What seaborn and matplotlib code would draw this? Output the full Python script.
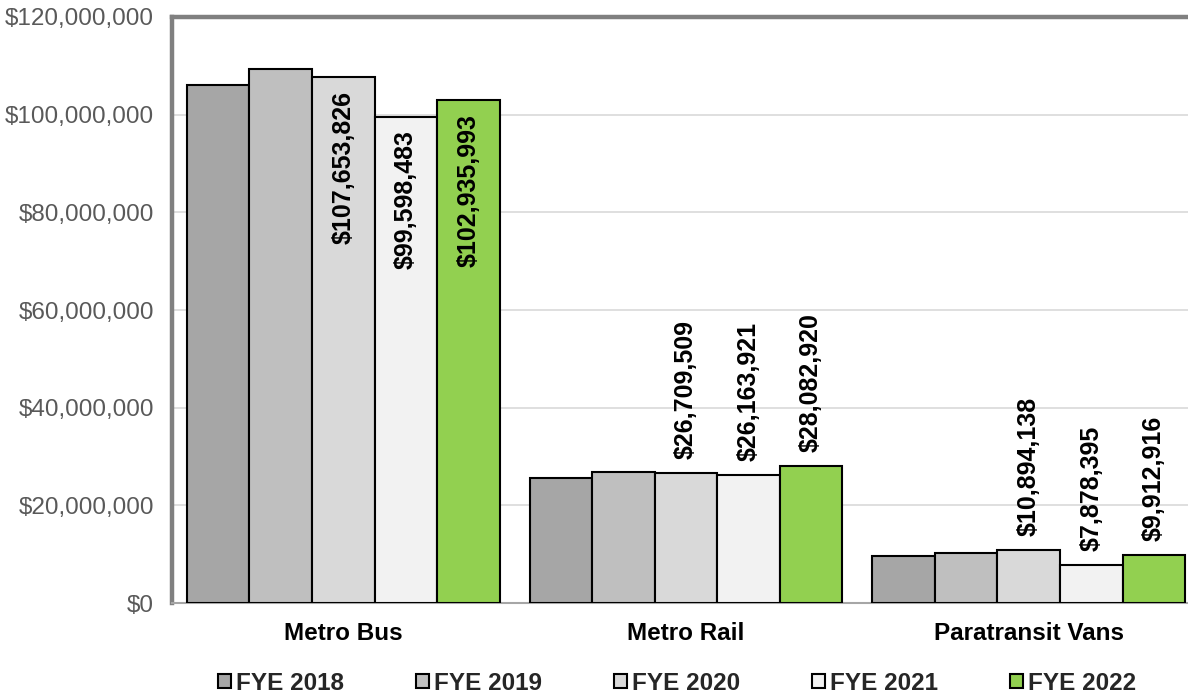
import matplotlib
matplotlib.use("Agg")
import matplotlib.pyplot as plt
import seaborn as sns
import pandas as pd
from matplotlib.ticker import FuncFormatter

categories = ["Metro Bus", "Metro Rail", "Paratransit Vans"]
years = ["FYE 2018", "FYE 2019", "FYE 2020", "FYE 2021", "FYE 2022"]
fye2018 = [106_050_000, 25_650_000, 9_650_000]
fye2019 = [109_300_000, 26_900_000, 10_250_000]
fye2020 = [107_653_826, 26_709_509, 10_894_138]
fye2021 = [99_598_483, 26_163_921, 7_878_395]
fye2022 = [102_935_993, 28_082_920, 9_912_916]
labeled_years = ["FYE 2020", "FYE 2021", "FYE 2022"]
inside_label_categories = ["Metro Bus"]

colors = ["#A6A6A6", "#BFBFBF", "#D9D9D9", "#F2F2F2", "#92D050"]

series = [fye2018, fye2019, fye2020, fye2021, fye2022]
rows = []
for yr, vals in zip(years, series):
    for c, v in zip(categories, vals):
        rows.append({"Category": c, "Year": yr, "Value": v})
df = pd.DataFrame(rows)

sns.set_theme(style="white")
plt.rcParams["font.family"] = ["Liberation Sans", "DejaVu Sans"]

fig = plt.figure(figsize=(11.88, 6.96), dpi=100)
ax = fig.add_axes([172 / 1188, 1 - 603 / 696, (1200 - 172) / 1188, (603 - 17) / 696])

sns.barplot(data=df, x="Category", y="Value", hue="Year", order=categories,
            hue_order=years, palette=colors, width=0.913, gap=0,
            edgecolor="black", linewidth=1.5, saturation=1, ax=ax, zorder=3)

ax.set_ylim(0, 120_000_000)
ax.set_yticks(range(0, 120_000_001, 20_000_000))
ax.yaxis.set_major_formatter(FuncFormatter(lambda v, p: "${:,.0f}".format(v)))
ax.grid(axis="y", color="#D9D9D9", linewidth=1.2, zorder=0)
ax.set_axisbelow(True)
ax.set_xlabel("")
ax.set_ylabel("")

ax.tick_params(axis="y", labelsize=17.5, labelcolor="#595959", pad=13, length=0)
ax.tick_params(axis="x", labelsize=17.5, labelcolor="black", pad=14, length=0)
for t in ax.get_xticklabels():
    t.set_fontweight("bold")

for s in ["left", "top"]:
    ax.spines[s].set_color("#808080")
    ax.spines[s].set_linewidth(3.2)
ax.spines["right"].set_visible(False)
ax.spines["bottom"].set_color("#A6A6A6")
ax.spines["bottom"].set_linewidth(1.5)

# value labels
for container, yr in zip(ax.containers, years):
    if yr not in labeled_years:
        continue
    for patch, cat in zip(container.patches, categories):
        h = patch.get_height()
        xc = patch.get_x() + patch.get_width() / 2
        txt = "${:,.0f}".format(h)
        if cat in inside_label_categories:
            ax.annotate(txt, (xc, h), xytext=(0, -10), textcoords="offset points",
                        rotation=90, ha="center", va="top", fontsize=18,
                        fontweight="bold", color="black", zorder=5)
        else:
            ax.annotate(txt, (xc, h), xytext=(0, 10), textcoords="offset points",
                        rotation=90, ha="center", va="bottom", fontsize=18,
                        fontweight="bold", color="black", zorder=5)

handles, labels = ax.get_legend_handles_labels()
ax.legend(handles, labels, loc="center", bbox_to_anchor=(677 / 1188, 13 / 696),
          bbox_transform=fig.transFigure, ncol=5, frameon=False,
          prop={"weight": "bold", "size": 17.5}, handlelength=0.55, handleheight=0.55,
          handletextpad=0.2, columnspacing=2.95, borderaxespad=0)

fig.savefig("out.png", dpi=100)
